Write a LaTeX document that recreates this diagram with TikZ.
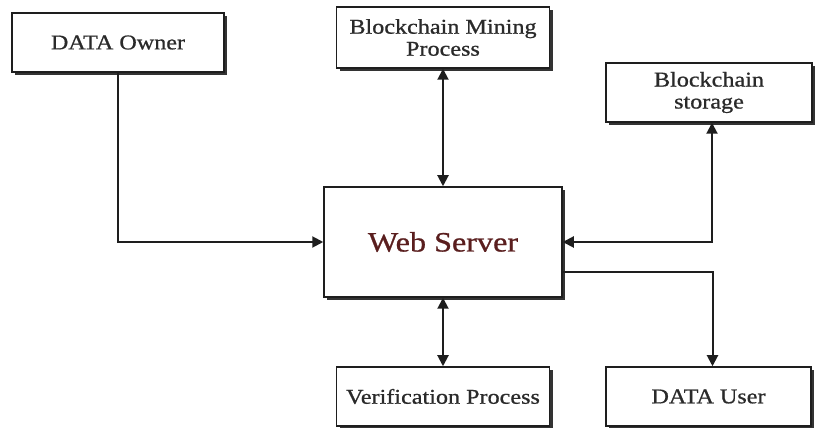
\documentclass[tikz,border=0pt]{standalone}
\usepackage{fontspec}
\setmainfont[FakeStretch=1.15,FakeBold=0.8]{Liberation Serif}
\usetikzlibrary{arrows.meta,shadows}
\definecolor{txt}{HTML}{2A2A2A}
\definecolor{ink}{HTML}{1E1E1E}
\definecolor{webred}{HTML}{5A1E1E}
\tikzset{
  box/.style={draw=ink, line width=1.5pt, fill=white, align=center, inner sep=0pt,
    text=txt, font=\fontsize{21}{22}\selectfont,
    drop shadow={shadow xshift=3pt, shadow yshift=-3pt, fill=black!80, opacity=1}},
  conn/.style={draw=ink, line width=2pt},
  tip/.style={-{Triangle[length=11pt,width=11pt]}},
  tips/.style={{Triangle[length=11pt,width=11pt]}-{Triangle[length=11pt,width=11pt]}},
}
\begin{document}
\begin{tikzpicture}[x=1pt,y=1pt]
\useasboundingbox (0,0) rectangle (817,428);
\fill[white] (0,0) rectangle (817,428);
\node[box, minimum width=212pt, minimum height=59pt] (owner) at (118,385.5) {DATA Owner};
\node[box, minimum width=213pt, minimum height=61pt] (mining) at (443,390.5) {Blockchain Mining\\Process};
\node[box, minimum width=206pt, minimum height=59pt] (storage) at (709,335.5) {Blockchain\\storage};
\node[box, minimum width=238pt, minimum height=110pt, text=webred, font=\fontsize{28}{30}\selectfont] (web) at (443,186) {Web Server};
\node[box, minimum width=213pt, minimum height=59pt] (verif) at (443,31.5) {Verification Process};
\node[box, minimum width=205pt, minimum height=59pt] (user) at (708.5,31.5) {DATA User};
\coordinate (sx) at ([xshift=3pt]storage.south);
\coordinate (wo) at ([yshift=-30pt]web.east);
\coordinate (ux) at ([xshift=4pt]user.north);
\draw[conn, tip] (owner.south) |- (web.west);
\draw[conn, tips] (mining.south) -- (mining.south |- web.north);
\draw[conn, tips] (sx) |- (web.east);
\draw[conn, tip] (wo) -| (ux);
\draw[conn, tips] (web.south) -- (web.south |- verif.north);
\end{tikzpicture}
\end{document}
